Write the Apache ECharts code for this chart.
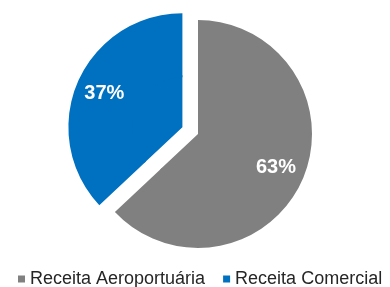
<!DOCTYPE html>
<html>
<head>
<meta charset="utf-8">
<script src="https://cdn.jsdelivr.net/npm/echarts@6/dist/echarts.min.js"></script>
<style>
  html, body { margin: 0; padding: 0; background: #fff; }
  #chart { width: 390px; height: 287px; }
</style>
</head>
<body>
<div id="chart"></div>
<script>
  // 数据
  var categories = ['Receita Aeroportuária', 'Receita Comercial'];
  var values = [63, 37];
  var colors = ['#808080', '#0070C0'];
  var explodedName = 'Receita Comercial';

  var pieData = categories.map(function (name, i) {
    return {
      name: name,
      value: values[i],
      selected: name === explodedName,
      itemStyle: { color: colors[i] }
    };
  });

  var center = [198, 134];

  var chart = echarts.init(document.getElementById('chart'));
  var option = {
    animation: false,
    legend: {
      data: categories,
      left: 18,
      top: 270,
      width: 600,
      padding: 0,
      icon: 'rect',
      itemWidth: 7,
      itemHeight: 7,
      itemGap: 18,
      textStyle: {
        fontFamily: 'Liberation Sans, Arial, sans-serif',
        fontSize: 18,
        color: '#262626'
      }
    },
    series: [
      {
        // 内圆 (不显示标签)
        type: 'pie',
        center: center,
        radius: [0, 52],
        startAngle: 90,
        selectedMode: 'single',
        selectedOffset: 17,
        silent: true,
        label: { show: false },
        labelLine: { show: false },
        data: pieData
      },
      {
        // 外环 (标签在环中间)
        type: 'pie',
        center: center,
        radius: [50, 114],
        startAngle: 90,
        selectedMode: 'single',
        selectedOffset: 17,
        label: {
          show: true,
          position: 'inside',
          formatter: '{d}%',
          color: '#ffffff',
          fontFamily: 'Liberation Sans, Arial, sans-serif',
          fontWeight: 'bold',
          fontSize: 20
        },
        labelLine: { show: false },
        data: pieData
      }
    ]
  };
  chart.setOption(option);
</script>
</body>
</html>
